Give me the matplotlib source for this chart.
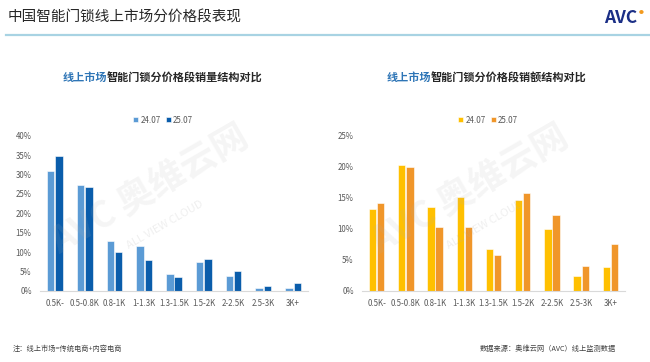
import matplotlib
matplotlib.use("Agg")
import matplotlib.pyplot as plt
import numpy as np
from matplotlib.ticker import FuncFormatter

plt.rcParams['font.family'] = ['Noto Sans CJK SC', 'DejaVu Sans']

categories = ["0.5K-", "0.5-0.8K", "0.8-1K", "1-1.3K", "1.3-1.5K", "1.5-2K", "2-2.5K", "2.5-3K", "3K+"]
series_names = ["24.07", "25.07"]
volume_2407 = [31.0, 27.2, 12.9, 11.7, 4.3, 7.5, 3.9, 0.7, 0.9]
volume_2507 = [34.7, 26.7, 10.1, 8.1, 3.7, 8.2, 5.1, 1.4, 2.0]
value_2407 = [13.2, 20.3, 13.6, 15.1, 6.8, 14.7, 10.0, 2.4, 3.8]
value_2507 = [14.1, 19.9, 10.3, 10.3, 5.8, 15.7, 12.2, 4.1, 7.6]
left_ticks = [0, 5, 10, 15, 20, 25, 30, 35, 40]
right_ticks = [0, 5, 10, 15, 20, 25]

W, H = 650, 362
fig = plt.figure(figsize=(6.5, 3.62), dpi=100)
fig.patch.set_facecolor('white')

def fx(px):
    return px / W

def fy(py):
    return 1 - py / H

# Header
fig.text(fx(8), fy(18), "中国智能门锁线上市场分价格段表现", fontsize=10.5, color='#262626',
         va='center', ha='left')
fig.add_artist(plt.Line2D([fx(6), fx(650)], [fy(35), fy(35)], color='#A8D3E3', lw=1.6))
fig.text(fx(621), fy(18), "AVC", fontsize=12.5, color='#1B2F86', fontweight='heavy',
         va='center', ha='center')
fig.text(fx(641), fy(13), "●", fontsize=3.5, color='#F39A1E', va='center', ha='center')

# Watermarks
for cx, cy in [(150, 200), (470, 200)]:
    fig.text(fx(cx), fy(cy - 10), "AVC 奥维云网", fontsize=26, color='#B0B0B0', alpha=0.13,
             rotation=30, ha='center', va='center', fontweight='bold')
    fig.text(fx(cx + 15), fy(cy + 25), "ALL VIEW CLOUD", fontsize=8, color='#B0B0B0', alpha=0.2,
             rotation=30, ha='center', va='center')

def draw(ax_rect, v1, v2, c1, c2, ticks, legend_x):
    ax = fig.add_axes(ax_rect)
    x = np.arange(len(categories))
    w = 0.25
    ax.bar(x - 0.14, v1, w, color=c1, edgecolor='white', linewidth=0.4, label=series_names[0])
    ax.bar(x + 0.14, v2, w, color=c2, edgecolor='white', linewidth=0.4, label=series_names[1])
    ax.set_xlim(-0.5, len(categories) - 0.5)
    ax.set_ylim(0, ticks[-1])
    ax.set_yticks(ticks)
    ax.yaxis.set_major_formatter(FuncFormatter(lambda v, p: f"{int(v)}%"))
    ax.set_xticks(x)
    ax.set_xticklabels(categories)
    ax.tick_params(axis='both', labelsize=5.7, colors='#595959', length=0, pad=6)
    for s in ['top', 'right', 'left']:
        ax.spines[s].set_visible(False)
    ax.spines['bottom'].set_color('#D9D9D9')
    ax.spines['bottom'].set_linewidth(0.8)
    ax.set_facecolor('none')
    ax.legend(loc='center', bbox_to_anchor=(legend_x, 1.1), ncol=2, frameon=False,
              fontsize=5.8, handlelength=0.6, handleheight=0.6, handletextpad=0.3,
              columnspacing=0.6, labelcolor='#595959')
    return ax

axL = draw([fx(40), fy(291), fx(308) - fx(40), fy(135.7) - fy(291)],
           volume_2407, volume_2507, '#5B9BD5', '#0A5DAB', left_ticks, 0.46)
axR = draw([fx(362), fy(291), fx(625) - fx(362), fy(135.7) - fy(291)],
           value_2407, value_2507, '#FFC000', '#F0962A', right_ticks, 0.48)

def subtitle(cx, cy, rest):
    fig.text(fx(cx), fy(cy), "线上市场", fontsize=8, color='#2E75B6', fontweight='bold',
             ha='right', va='center')
    fig.text(fx(cx), fy(cy), rest, fontsize=8, color='#262626', fontweight='bold',
             ha='left', va='center')

subtitle(107, 78, "智能门锁分价格段销量结构对比")
subtitle(431, 78, "智能门锁分价格段销额结构对比")

fig.text(fx(13), fy(349), "注：线上市场=传统电商+内容电商", fontsize=5.2, color='#404040',
         ha='left', va='center')
fig.text(fx(480), fy(349), "数据来源：奥维云网（AVC）线上监测数据", fontsize=5.2, color='#404040',
         ha='left', va='center')

fig.savefig("out.png", dpi=100, facecolor='white')
